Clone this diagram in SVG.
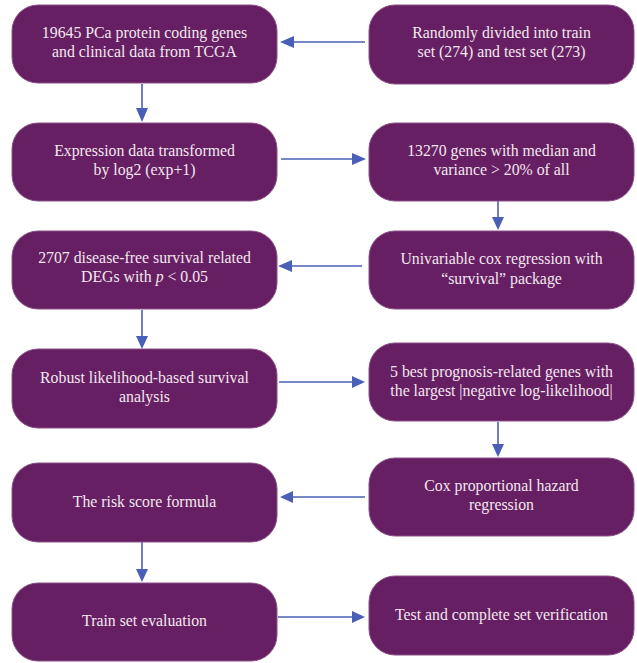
<svg xmlns="http://www.w3.org/2000/svg" width="637" height="663" viewBox="0 0 637 663">
<defs>
<style>
.box{fill:#661f62;stroke:#8a5087;stroke-width:1}
.t{font-family:"Liberation Serif","DejaVu Serif",serif;font-size:15.8px;fill:#f3e8f0;text-anchor:middle}
.ln{stroke:#4a5fb8;stroke-width:1.6;fill:none}
.hd{fill:#4a5fb8}
</style>
</defs>
<rect width="637" height="663" fill="#ffffff"/>
<g id="connectors">
<line class="ln" x1="365" y1="42" x2="293" y2="42"/>
<path class="hd" d="M280,42 L294,36 L294,48 z"/>
<line class="ln" x1="142" y1="84" x2="142" y2="110"/>
<path class="hd" d="M142,122 L136,108 L148,108 z"/>
<line class="ln" x1="281" y1="159" x2="352" y2="159"/>
<path class="hd" d="M366,159 L352,153 L352,165 z"/>
<line class="ln" x1="498" y1="201" x2="498" y2="218"/>
<path class="hd" d="M498,230 L492,217 L504,217 z"/>
<line class="ln" x1="362" y1="266" x2="292" y2="266"/>
<path class="hd" d="M278,266 L292,260 L292,272 z"/>
<line class="ln" x1="142" y1="310" x2="142" y2="338"/>
<path class="hd" d="M142,349 L136,336 L148,336 z"/>
<line class="ln" x1="279" y1="382" x2="352" y2="382"/>
<path class="hd" d="M365,382 L352,376 L352,388 z"/>
<line class="ln" x1="498" y1="422" x2="498" y2="446"/>
<path class="hd" d="M498,457 L492,444 L504,444 z"/>
<line class="ln" x1="365" y1="497" x2="293" y2="497"/>
<path class="hd" d="M280,497 L293,491 L293,503 z"/>
<line class="ln" x1="142" y1="542" x2="142" y2="570"/>
<path class="hd" d="M142,582 L136,569 L148,569 z"/>
<line class="ln" x1="278" y1="617" x2="352" y2="617"/>
<path class="hd" d="M365,617 L352,611 L352,623 z"/>
</g>
<g id="n1">
<rect class="box" x="12" y="5" width="265" height="78" rx="26"/>
<text class="t" x="144.5" y="38">19645 PCa protein coding genes</text>
<text class="t" x="144.5" y="57">and clinical data from TCGA</text>
</g>
<g id="n2">
<rect class="box" x="369" y="5" width="265" height="79" rx="26"/>
<text class="t" x="501.5" y="38">Randomly divided into train</text>
<text class="t" x="501.5" y="57">set (274) and test set (273)</text>
</g>
<g id="n3">
<rect class="box" x="12" y="123" width="265" height="78" rx="26"/>
<text class="t" x="144.5" y="156">Expression data transformed</text>
<text class="t" x="144.5" y="175">by log2 (exp+1)</text>
</g>
<g id="n4">
<rect class="box" x="369" y="123" width="265" height="78" rx="26"/>
<text class="t" x="501.5" y="156">13270 genes with median and</text>
<text class="t" x="501.5" y="175">variance &gt; 20% of all</text>
</g>
<g id="n5">
<rect class="box" x="369" y="231" width="265" height="78" rx="26"/>
<text class="t" x="501.5" y="264">Univariable cox regression with</text>
<text class="t" x="501.5" y="284">“survival” package</text>
</g>
<g id="n6">
<rect class="box" x="12" y="231" width="265" height="78" rx="26"/>
<text class="t" x="144.5" y="263">2707 disease-free survival related</text>
<text class="t" x="144.5" y="282">DEGs with <tspan font-style="italic">p</tspan> &lt; 0.05</text>
</g>
<g id="n7">
<rect class="box" x="12" y="349" width="265" height="79" rx="26"/>
<text class="t" x="144.5" y="383">Robust likelihood-based survival</text>
<text class="t" x="144.5" y="402">analysis</text>
</g>
<g id="n8">
<rect class="box" x="369" y="343" width="265" height="78" rx="26"/>
<text class="t" x="501.5" y="377">5 best prognosis-related genes with</text>
<text class="t" x="501.5" y="396">the largest |negative log-likelihood|</text>
</g>
<g id="n9">
<rect class="box" x="369" y="458" width="265" height="78" rx="26"/>
<text class="t" x="501.5" y="491">Cox proportional hazard</text>
<text class="t" x="501.5" y="510">regression</text>
</g>
<g id="n10">
<rect class="box" x="12" y="463" width="265" height="79" rx="26"/>
<text class="t" x="144.5" y="507">The risk score formula</text>
</g>
<g id="n11">
<rect class="box" x="12" y="583" width="265" height="78" rx="26"/>
<text class="t" x="144.5" y="626">Train set evaluation</text>
</g>
<g id="n12">
<rect class="box" x="369" y="576" width="265" height="79" rx="26"/>
<text class="t" x="501.5" y="620">Test and complete set verification</text>
</g>
</svg>
